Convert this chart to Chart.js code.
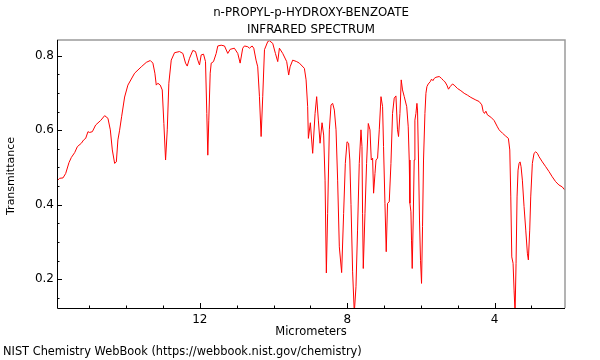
<!DOCTYPE html>
<html>
<head>
<meta charset="utf-8">
<script src="https://cdn.jsdelivr.net/npm/chart.js@4.4.1/dist/chart.umd.min.js"></script>
<style>
  html, body { margin: 0; padding: 0; background: #fff; }
</style>
</head>
<body>
<canvas id="irChart" width="600" height="360"></canvas>
<script>
// wavelength (micrometers) and transmittance
const micrometers = [
  15.875, 15.802, 15.712, 15.639, 15.550, 15.485, 15.395, 15.322, 15.214, 15.151,
  15.097, 15.035, 14.989, 14.916, 14.826, 14.691, 14.582, 14.493, 14.428, 14.374,
  14.311, 14.265, 14.222, 14.176, 14.122, 14.040, 13.951, 13.769, 13.588, 13.452,
  13.344, 13.273, 13.219, 13.181, 13.138, 13.073, 13.019, 12.975, 12.929, 12.883,
  12.840, 12.775, 12.685, 12.550, 12.460, 12.387, 12.341, 12.279, 12.189, 12.116,
  12.054, 12.008, 11.962, 11.899, 11.845, 11.810, 11.783, 11.756, 11.718, 11.690,
  11.628, 11.555, 11.512, 11.420, 11.330, 11.241, 11.176, 11.062, 10.970, 10.905,
  10.835, 10.789, 10.699, 10.653, 10.580, 10.536, 10.474, 10.428, 10.382, 10.336,
  10.292, 10.245, 10.155, 10.111, 10.021, 9.948, 9.885, 9.840, 9.750, 9.642,
  9.588, 9.550, 9.479, 9.371, 9.298, 9.162, 9.116, 9.073, 9.054, 9.000,
  8.937, 8.872, 8.829, 8.783, 8.737, 8.683, 8.639, 8.601, 8.566, 8.531,
  8.485, 8.439, 8.395, 8.349, 8.303, 8.260, 8.214, 8.151, 8.097, 8.051,
  8.005, 7.962, 7.929, 7.897, 7.853, 7.808, 7.762, 7.719, 7.673, 7.626,
  7.599, 7.583, 7.564, 7.518, 7.474, 7.428, 7.382, 7.347, 7.311, 7.284,
  7.246, 7.219, 7.176, 7.130, 7.083, 7.040, 7.014, 6.976, 6.941, 6.905,
  6.859, 6.813, 6.770, 6.724, 6.678, 6.635, 6.607, 6.569, 6.534, 6.499,
  6.452, 6.385, 6.344, 6.317, 6.298, 6.271, 6.255, 6.236, 6.209, 6.182,
  6.163, 6.135, 6.108, 6.092, 6.065, 6.038, 6.011, 5.983, 5.956, 5.929,
  5.891, 5.864, 5.837, 5.801, 5.747, 5.712, 5.674, 5.638, 5.592, 5.503,
  5.441, 5.387, 5.349, 5.295, 5.252, 5.205, 5.143, 5.097, 5.008, 4.916,
  4.826, 4.737, 4.645, 4.509, 4.420, 4.347, 4.310, 4.275, 4.237, 4.194,
  4.102, 4.013, 3.924, 3.878, 3.788, 3.697, 3.626, 3.588, 3.561, 3.534,
  3.499, 3.472, 3.445, 3.418, 3.391, 3.364, 3.336, 3.309, 3.282, 3.247,
  3.201, 3.155, 3.111, 3.084, 3.047, 3.020, 2.976, 2.930, 2.884, 2.840,
  2.795, 2.705, 2.613, 2.524, 2.436, 2.344, 2.255, 2.165, 2.111, 2.090
];
const transmittance = [
  0.464, 0.471, 0.472, 0.484, 0.513, 0.527, 0.540, 0.556, 0.565, 0.574,
  0.578, 0.596, 0.594, 0.596, 0.614, 0.626, 0.639, 0.632, 0.601, 0.547,
  0.511, 0.515, 0.574, 0.600, 0.636, 0.689, 0.721, 0.753, 0.770, 0.782,
  0.787, 0.780, 0.753, 0.721, 0.726, 0.721, 0.708, 0.618, 0.520, 0.601,
  0.726, 0.788, 0.808, 0.811, 0.806, 0.780, 0.772, 0.793, 0.814, 0.811,
  0.788, 0.775, 0.802, 0.804, 0.784, 0.645, 0.533, 0.627, 0.753, 0.780,
  0.784, 0.806, 0.826, 0.828, 0.826, 0.806, 0.817, 0.820, 0.806, 0.780,
  0.820, 0.826, 0.824, 0.820, 0.826, 0.820, 0.788, 0.770, 0.691, 0.583,
  0.691, 0.816, 0.838, 0.840, 0.833, 0.806, 0.784, 0.820, 0.806, 0.784,
  0.748, 0.770, 0.788, 0.784, 0.780, 0.766, 0.735, 0.663, 0.578, 0.620,
  0.538, 0.645, 0.690, 0.627, 0.565, 0.620, 0.587, 0.466, 0.217, 0.377,
  0.601, 0.668, 0.672, 0.654, 0.601, 0.466, 0.287, 0.218, 0.377, 0.511,
  0.569, 0.565, 0.520, 0.400, 0.220, 0.110, 0.180, 0.332, 0.511, 0.601,
  0.556, 0.377, 0.229, 0.377, 0.511, 0.618, 0.601, 0.520, 0.525, 0.431,
  0.484, 0.520, 0.525, 0.601, 0.690, 0.663, 0.556, 0.404, 0.274, 0.404,
  0.408, 0.511, 0.645, 0.686, 0.692, 0.601, 0.583, 0.645, 0.735, 0.708,
  0.690, 0.663, 0.609, 0.520, 0.404, 0.381, 0.305, 0.229, 0.359, 0.520,
  0.627, 0.645, 0.672, 0.654, 0.520, 0.359, 0.251, 0.189, 0.341, 0.520,
  0.645, 0.699, 0.717, 0.724, 0.730, 0.737, 0.733, 0.739, 0.742, 0.744,
  0.739, 0.733, 0.730, 0.721, 0.710, 0.717, 0.724, 0.721, 0.712, 0.706,
  0.699, 0.694, 0.688, 0.681, 0.677, 0.668, 0.650, 0.645, 0.651, 0.641,
  0.635, 0.626, 0.609, 0.601, 0.592, 0.584, 0.578, 0.547, 0.421, 0.260,
  0.243, 0.171, 0.110, 0.243, 0.421, 0.493, 0.511, 0.515, 0.502, 0.466,
  0.395, 0.332, 0.270, 0.252, 0.332, 0.421, 0.511, 0.538, 0.542, 0.538,
  0.529, 0.515, 0.502, 0.489, 0.475, 0.462, 0.453, 0.448, 0.441, 0.440
];

const xTickLabels = [12, 8, 4];
const xMinorTicks = [15, 14, 13, 11, 10, 9, 7, 6, 5, 3];
const yTickLabels = [0.2, 0.4, 0.6, 0.8];
const yMinorTicks = [0.15, 0.25, 0.3, 0.35, 0.45, 0.5, 0.55, 0.65, 0.7, 0.75];

const titleLines = ["n-PROPYL-p-HYDROXY-BENZOATE", "INFRARED SPECTRUM"];
const xTitle = "Micrometers";
const yTitle = "Transmittance";
const footer = "NIST Chemistry WebBook (https://webbook.nist.gov/chemistry)";

const FAMILY = "'DejaVu Sans', sans-serif";

// frame, inward tick marks and all the loose text
const decorations = {
  id: "decorations",
  afterDraw(chart) {
    const { ctx, chartArea: a, scales } = chart;
    const x = scales.x, y = scales.y;
    ctx.save();

    // gray top / right border
    ctx.strokeStyle = "#9a9a9a";
    ctx.lineWidth = 1.5;
    ctx.beginPath();
    ctx.moveTo(a.left, a.top);
    ctx.lineTo(a.right, a.top);
    ctx.lineTo(a.right, a.bottom);
    ctx.stroke();

    // black left / bottom axes
    ctx.strokeStyle = "#000";
    ctx.lineWidth = 1;
    ctx.beginPath();
    ctx.moveTo(a.left + 0.5, a.top);
    ctx.lineTo(a.left + 0.5, a.bottom + 0.5);
    ctx.lineTo(a.right, a.bottom + 0.5);
    ctx.stroke();

    // ticks point into the plot
    ctx.beginPath();
    xTickLabels.forEach(v => {
      const px = Math.round(x.getPixelForValue(v)) + 0.5;
      ctx.moveTo(px, a.bottom); ctx.lineTo(px, a.bottom - 5);
    });
    xMinorTicks.forEach(v => {
      const px = Math.round(x.getPixelForValue(v)) + 0.5;
      ctx.moveTo(px, a.bottom); ctx.lineTo(px, a.bottom - 2.5);
    });
    yTickLabels.forEach(v => {
      const py = Math.round(y.getPixelForValue(v)) + 0.5;
      ctx.moveTo(a.left, py); ctx.lineTo(a.left + 5, py);
    });
    yMinorTicks.forEach(v => {
      const py = Math.round(y.getPixelForValue(v)) + 0.5;
      ctx.moveTo(a.left, py); ctx.lineTo(a.left + 2.5, py);
    });
    ctx.stroke();

    // text
    ctx.fillStyle = "#000";
    ctx.textBaseline = "middle";
    ctx.textAlign = "center";
    const cx = (a.left + a.right) / 2;
    ctx.font = "11.8px " + FAMILY;
    ctx.fillText(titleLines[0], cx, 13);
    ctx.fillText(titleLines[1], cx, 30);
    ctx.font = "11.5px " + FAMILY;
    ctx.fillText(xTitle, cx, 332);

    ctx.save();
    ctx.font = "11px " + FAMILY;
    ctx.translate(11, 176);
    ctx.rotate(-Math.PI / 2);
    ctx.fillText(yTitle, 0, 0);
    ctx.restore();

    ctx.font = "11.4px " + FAMILY;
    ctx.textAlign = "left";
    ctx.fillText(footer, 3, 352);
    ctx.restore();
  }
};

const ctx = document.getElementById("irChart");
new Chart(ctx, {
  type: "line",
  data: {
    datasets: [{
      data: micrometers.map((m, i) => ({ x: m, y: transmittance[i] })),
      borderColor: "rgb(255, 0, 0)",
      borderWidth: 1,
      pointRadius: 0,
      tension: 0,
      fill: false
    }]
  },
  options: {
    responsive: false,
    animation: false,
    layout: { padding: { top: 40, right: 35, left: 0, bottom: 0 } },
    plugins: { legend: { display: false }, tooltip: { enabled: false }, title: { display: false } },
    scales: {
      x: {
        type: "linear",
        reverse: true,
        min: 2.09,
        max: 15.875,
        grid: { display: false, drawTicks: false },
        border: { display: false },
        afterBuildTicks: s => { s.ticks = xTickLabels.map(v => ({ value: v })); },
        afterFit: s => { s.height = 52; },
        ticks: {
          color: "#000",
          font: { family: FAMILY, size: 12 },
          padding: 5,
          maxRotation: 0,
          callback: v => String(v)
        }
      },
      y: {
        min: 0.123,
        max: 0.842,
        grid: { display: false, drawTicks: false },
        border: { display: false },
        afterBuildTicks: s => { s.ticks = yTickLabels.map(v => ({ value: v })); },
        afterFit: s => { s.width = 57; },
        ticks: {
          color: "#000",
          font: { family: FAMILY, size: 12 },
          padding: 3,
          callback: v => v.toFixed(1)
        }
      }
    }
  },
  plugins: [decorations]
});
</script>
</body>
</html>
